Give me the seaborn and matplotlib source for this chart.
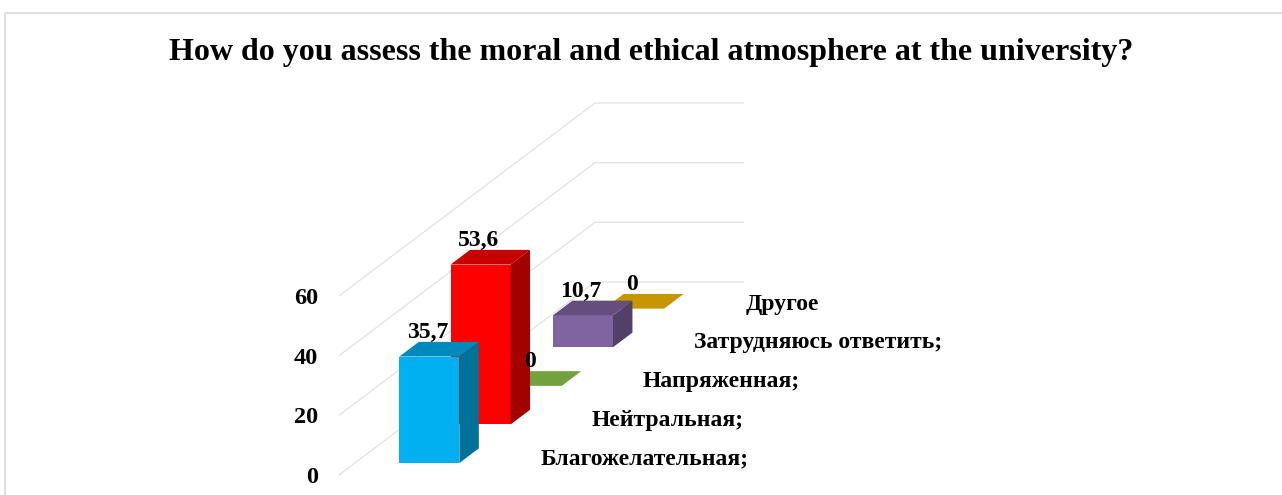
import matplotlib
matplotlib.use("Agg")
import matplotlib.pyplot as plt
from matplotlib.colors import to_rgb
from matplotlib.lines import Line2D
import seaborn as sns

# ---- data -------------------------------------------------------------
categories = ["Благожелательная;", "Нейтральная;", "Напряженная;",
              "Затрудняюсь ответить;", "Другое"]
values = [35.7, 53.6, 0.0, 10.7, 0.0]
value_labels = ["35,7", "53,6", "0", "10,7", "0"]
tick_values = [0, 20, 40, 60]
colors = ["#00B0F0", "#FF0000", "#92D050", "#8064A2", "#FFC000"]
title = "How do you assess the moral and ethical atmosphere at the university?"

# ---- style ------------------------------------------------------------
sns.set_theme(style="white")
plt.rcParams["font.family"] = ["Liberation Serif", "DejaVu Serif"]
plt.rcParams["font.weight"] = "bold"

W_PX, H_PX, DPI = 1282, 495, 100
fig = plt.figure(figsize=(W_PX / DPI, H_PX / DPI), dpi=DPI)
fig.patch.set_facecolor("white")
ax = fig.add_axes([0, 0, 1, 1])
ax.set_axis_off()

# ---- oblique 3-D geometry (x in pixels, y in value units) --------------
PX_PER_UNIT = 2.983          # vertical pixels per value unit
ORIGIN_X, ORIGIN_Y = 339, 475  # front-left floor corner (pixels from top-left)
FLOOR_W = 149                # width of the floor / back wall
SLOT_DX = 51.2               # horizontal shift per series slot
SLOT_DY = 38.6 / PX_PER_UNIT  # vertical shift per series slot
BAR_W = 60
BAR_DEPTH = 0.38             # fraction of a slot taken by a bar
n = len(categories)


def proj(u, d, v):
    """front-plane position u, depth d (in slots), value v -> data coords"""
    return u + d * SLOT_DX, v + d * SLOT_DY


def shade(c, f):
    r, g, b = to_rgb(c)
    return (r * f, g * f, b * f)


# gridlines on the side wall and back wall, plus value ticks
for t in tick_values:
    x0, y0 = proj(0, 0, t)
    x1, y1 = proj(0, n, t)
    x2, y2 = proj(FLOOR_W, n, t)
    ax.plot([x0, x1, x2], [y0, y1, y2], color="#E2E2E2", lw=0.9, zorder=1,
            solid_capstyle="butt")
    ax.text(x0 - 21, t, str(t), ha="right", va="center_baseline",
            fontsize=17.5, fontweight="bold", color="black")

# bars, drawn from back to front
d_gap = (1 - BAR_DEPTH) / 2
u0 = (FLOOR_W - BAR_W) / 2
for i in reversed(range(n)):
    v = values[i]
    col = colors[i]
    df = i + d_gap
    db = df + BAR_DEPTH
    z = 10 + (n - i) * 4

    cx, base_y = proj(u0 + BAR_W / 2, df, 0)
    # front face
    sns.barplot(x=[cx], y=[v], native_scale=True, orient="x", width=BAR_W,
                bottom=base_y, color=col, saturation=1, errorbar=None,
                linewidth=0, ax=ax, zorder=z)
    # side face
    side = [proj(u0 + BAR_W, df, 0), proj(u0 + BAR_W, db, 0),
            proj(u0 + BAR_W, db, v), proj(u0 + BAR_W, df, v)]
    ax.fill([p[0] for p in side], [p[1] for p in side],
            color=shade(col, 0.64), lw=0, zorder=z + 1)
    # top face
    top = [proj(u0, df, v), proj(u0 + BAR_W, df, v),
           proj(u0 + BAR_W, db, v), proj(u0, db, v)]
    ax.fill([p[0] for p in top], [p[1] for p in top],
            color=shade(col, 0.78), lw=0, zorder=z + 2)

    # value label
    lx = cx - 2
    ly = proj(0, db, v)[1] + 4 / PX_PER_UNIT
    ax.text(lx, ly, value_labels[i], ha="center", va="baseline",
            fontsize=17, fontweight="bold", color="black", zorder=100)

# series names along the depth axis
for i, cat in enumerate(categories):
    ax.annotate(cat, xy=proj(FLOOR_W, i + 0.5, 0), xytext=(27, -8.5),
                textcoords="offset pixels", ha="left", va="baseline",
                fontsize=17, fontweight="bold", color="black", zorder=100)

ax.set_xlim(-ORIGIN_X, W_PX - ORIGIN_X)
ax.set_ylim(-(H_PX - ORIGIN_Y) / PX_PER_UNIT, ORIGIN_Y / PX_PER_UNIT)

# title and chart border
fig.text(651 / W_PX, 1 - 60 / H_PX, title, ha="center", va="baseline",
         fontsize=23, fontweight="bold", color="black")
fig.add_artist(Line2D([4.5 / W_PX, 4.5 / W_PX, 1.0],
                      [0.0, 1 - 12.5 / H_PX, 1 - 12.5 / H_PX],
                      transform=fig.transFigure, color="#D9D9D9", lw=1.2))

fig.savefig("out.png", dpi=DPI, facecolor="white")
